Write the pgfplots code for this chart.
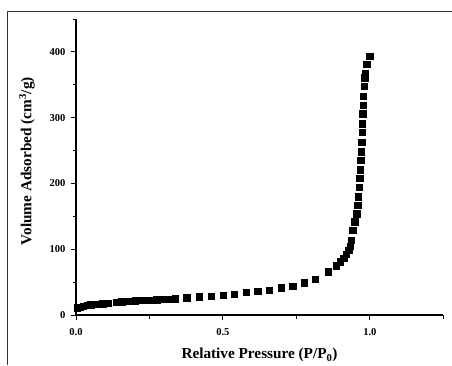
\documentclass[border=0pt]{standalone}
\usepackage{fontspec}
\setmainfont{Liberation Serif}
\usepackage{pgfplots}
\pgfplotsset{compat=1.18}
\begin{document}
\begin{tikzpicture}[x=1bp,y=1bp]
\useasboundingbox (0,0) rectangle (452,365);
\draw[line width=0.9bp, black!80] (7,0) -- (7,354) -- (452,354);
\begin{axis}[
  at={(76bp,50bp)}, anchor=south west,
  scale only axis, width=367.3bp, height=296bp,
  xmin=0, xmax=1.25, ymin=0, ymax=450,
  axis lines=left, axis line style={-, line width=1.2bp},
  xtick={0,0.5,1.0}, ytick={0,100,200,300,400},
  minor xtick={0.25,0.75,1.25}, minor ytick={50,150,250,350,450},
  xticklabels={0.0,0.5,1.0},
  tick align=outside, major tick length=5bp, minor tick length=3.5bp,
  tick style={line width=1bp, black},
  /pgf/number format/assume math mode=true,
  tick label style={font=\bfseries\fontsize{10.6}{12}\selectfont, black},
  xticklabel style={yshift=-4.5bp},
  yticklabel style={xshift=-2bp},
  label style={font=\bfseries\fontsize{15.3}{18}\selectfont},
  xlabel={Relative Pressure (P/P\textsubscript{0})},
  ylabel={Volume Adsorbed (cm\textsuperscript{3}/g)},
  xlabel style={at={(axis description cs:0.4996,-0.1486)}, anchor=base},
  ylabel style={at={(axis description cs:-0.1334,0.520)}, anchor=center},
  clip=false,
]
\addplot[only marks, mark=square*, mark size=3.2bp, black] coordinates {
(0.0045,11.1) (0.012,12.3) (0.025,13.7) (0.038,15.0) (0.050,15.7) (0.060,16.0) (0.070,16.2)
(0.080,16.8) (0.091,17.2) (0.110,18.2) (0.136,19.2) (0.156,20.3) (0.178,20.8)
(0.201,21.8) (0.224,22.3) (0.250,22.8) (0.275,23.3) (0.300,23.8) (0.323,24.3)
(0.338,24.8) (0.377,26.3) (0.420,27.9) (0.460,28.9) (0.500,30.4) (0.539,31.9)
(0.580,34.4) (0.618,36.5) (0.658,38.0) (0.698,41.5) (0.737,44.1) (0.777,49.1)
(0.815,54.2) (0.859,65.8) (0.886,75) (0.900,81) (0.911,86) (0.920,92)
(0.928,98.7) (0.934,105) (0.936,114) (0.942,129) (0.949,142) (0.955,154)
(0.958,167) (0.961,180) (0.964,194) (0.966,208) (0.967,221) (0.969,235)
(0.970,248) (0.972,263) (0.973,278) (0.974,291) (0.975,306) (0.977,319)
(0.978,333) (0.980,348) (0.983,361) (0.985,367) (0.989,381) (1.000,393)
};
\end{axis}
\end{tikzpicture}
\end{document}
